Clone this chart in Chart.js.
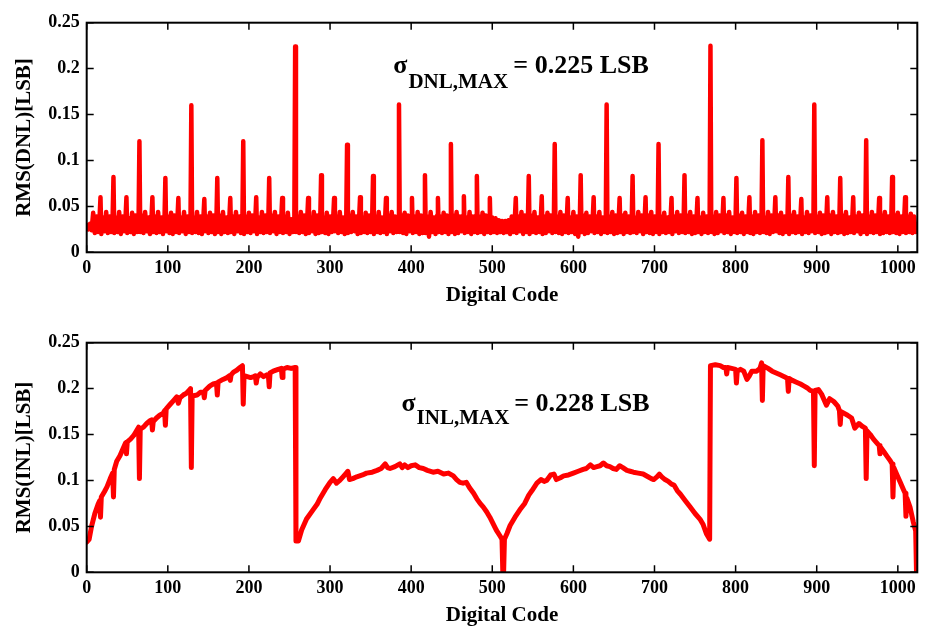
<!DOCTYPE html>
<html>
<head>
<meta charset="utf-8">
<title>RMS DNL / INL vs digital code</title>
<style>
  body { margin: 0; background: #fff; overflow: hidden; }
  canvas { display: block; }
</style>
</head>
<body>
<script src="https://cdn.jsdelivr.net/npm/chart.js@4.4.0/dist/chart.umd.min.js"></script>
<canvas id="dnlChart" width="926" height="320"></canvas>
<canvas id="inlChart" width="926" height="320"></canvas>
<script>
// ---- data ----

// DNL band, one value every 2 codes (0, 2, 4 ... 1024), 32 codes per row
var dnlBaseStep = 2;
var dnlBase = [
  0.030,0.025,0.031,0.024,0.043,0.021,0.039,0.022,0.040,0.020,0.038,0.023,0.044,0.021,0.039,0.022,
  0.040,0.021,0.038,0.022,0.044,0.020,0.039,0.023,0.040,0.021,0.037,0.022,0.043,0.020,0.040,0.022,
  0.039,0.022,0.040,0.021,0.044,0.023,0.038,0.020,0.040,0.022,0.039,0.021,0.044,0.022,0.038,0.020,
  0.040,0.023,0.039,0.021,0.043,0.020,0.040,0.022,0.039,0.021,0.038,0.023,0.044,0.020,0.039,0.022,
  0.040,0.021,0.038,0.022,0.044,0.021,0.039,0.020,0.040,0.023,0.039,0.021,0.043,0.022,0.040,0.020,
  0.039,0.022,0.040,0.020,0.044,0.022,0.038,0.021,0.040,0.022,0.039,0.020,0.044,0.023,0.039,0.021,
  0.040,0.020,0.039,0.022,0.043,0.021,0.040,0.023,0.039,0.020,0.038,0.022,0.044,0.021,0.040,0.022,
  0.039,0.021,0.040,0.023,0.044,0.020,0.039,0.022,0.040,0.021,0.039,0.022,0.043,0.020,0.036,0.022,
  0.038,0.022,0.039,0.021,0.044,0.022,0.040,0.020,0.039,0.021,0.038,0.023,0.044,0.020,0.040,0.021,
  0.040,0.022,0.038,0.021,0.043,0.020,0.039,0.022,0.040,0.023,0.039,0.021,0.044,0.022,0.038,0.020,
  0.039,0.021,0.040,0.022,0.044,0.023,0.039,0.020,0.040,0.021,0.038,0.022,0.043,0.021,0.040,0.022,
  0.040,0.020,0.039,0.022,0.044,0.021,0.038,0.022,0.039,0.020,0.040,0.023,0.044,0.021,0.039,0.022,
  0.039,0.022,0.040,0.021,0.043,0.020,0.040,0.023,0.038,0.021,0.039,0.022,0.044,0.020,0.040,0.021,
  0.040,0.021,0.039,0.017,0.044,0.022,0.038,0.020,0.040,0.022,0.039,0.021,0.043,0.022,0.040,0.020,
  0.039,0.022,0.040,0.020,0.044,0.021,0.039,0.023,0.040,0.021,0.038,0.022,0.044,0.020,0.039,0.022,
  0.040,0.021,0.039,0.022,0.043,0.020,0.040,0.022,0.039,0.021,0.038,0.022,0.037,0.021,0.035,0.022,
  0.034,0.021,0.034,0.022,0.035,0.020,0.039,0.022,0.040,0.021,0.039,0.023,0.044,0.020,0.040,0.022,
  0.039,0.020,0.040,0.022,0.044,0.021,0.038,0.022,0.040,0.020,0.039,0.021,0.043,0.023,0.040,0.021,
  0.040,0.022,0.039,0.021,0.044,0.020,0.040,0.022,0.039,0.021,0.038,0.022,0.044,0.020,0.039,0.017,
  0.039,0.022,0.040,0.020,0.043,0.021,0.039,0.023,0.040,0.021,0.039,0.022,0.044,0.020,0.038,0.022,
  0.040,0.021,0.039,0.022,0.044,0.020,0.040,0.021,0.039,0.022,0.040,0.020,0.043,0.022,0.039,0.021,
  0.039,0.022,0.038,0.021,0.044,0.023,0.040,0.020,0.039,0.022,0.040,0.021,0.044,0.020,0.039,0.022,
  0.040,0.020,0.039,0.022,0.043,0.021,0.038,0.022,0.040,0.020,0.039,0.023,0.044,0.021,0.040,0.022,
  0.039,0.021,0.040,0.022,0.044,0.020,0.039,0.021,0.040,0.022,0.038,0.020,0.043,0.022,0.039,0.021,
  0.040,0.022,0.039,0.020,0.044,0.021,0.040,0.023,0.039,0.021,0.040,0.022,0.044,0.020,0.038,0.022,
  0.039,0.021,0.040,0.022,0.043,0.020,0.039,0.022,0.040,0.021,0.039,0.020,0.044,0.022,0.040,0.021,
  0.040,0.022,0.038,0.021,0.044,0.020,0.040,0.022,0.039,0.023,0.040,0.021,0.043,0.020,0.039,0.022,
  0.039,0.020,0.040,0.022,0.044,0.021,0.039,0.022,0.040,0.020,0.038,0.022,0.044,0.021,0.040,0.023,
  0.040,0.021,0.039,0.022,0.043,0.020,0.040,0.021,0.039,0.022,0.040,0.020,0.044,0.022,0.039,0.021,
  0.039,0.022,0.040,0.020,0.044,0.021,0.038,0.022,0.040,0.021,0.039,0.023,0.043,0.020,0.040,0.022,
  0.040,0.020,0.039,0.022,0.044,0.021,0.040,0.022,0.039,0.020,0.040,0.021,0.044,0.022,0.039,0.021,
  0.039,0.022,0.040,0.021,0.043,0.020,0.039,0.022,0.040,0.021,0.039,0.022,0.042,0.021,0.039,0.022,
  0.030
];

// DNL spikes at the binary-weighted codes
var dnlSpikeCodes = [
  17,33,49,65,81,97,113,129,145,161,177,193,209,225,241,257,
  273,289,305,321,337,353,369,385,401,417,433,449,465,481,497,
  529,545,561,577,593,609,625,641,657,673,689,705,721,737,753,
  769,785,801,817,833,849,865,881,897,913,929,945,961,977,993,1009
];
var dnlSpikeValues = [
  0.060,0.082,0.060,0.121,0.060,0.081,0.059,0.160,0.058,0.081,0.059,0.121,0.060,0.081,0.059,0.224,
  0.059,0.084,0.059,0.117,0.060,0.083,0.059,0.161,0.059,0.084,0.059,0.118,0.061,0.083,0.059,
  0.059,0.083,0.061,0.118,0.059,0.084,0.060,0.161,0.059,0.083,0.060,0.118,0.059,0.084,0.059,
  0.225,0.059,0.081,0.060,0.122,0.060,0.082,0.058,0.161,0.060,0.081,0.060,0.122,0.059,0.082,0.060
];

// INL curve
var inlCodes = [
  0,3,6,10,14,16,17,18,22,25,
  29,32,33,34,37,41,45,48,49,50,
  54,58,62,64,65,66,70,74,78,80,
  81,82,86,90,94,96,97,98,103,107,
  111,113,115,119,123,127,128,129,130,136,
  140,144,145,146,152,156,160,161,162,168,
  173,176,177,178,181,185,189,192,193,194,
  198,202,206,208,209,210,214,218,222,224,
  225,226,230,236,240,241,242,247,252,257,
  258,261,265,271,279,284,288,294,300,304,
  308,312,316,320,322,324,328,333,340,345,
  352,358,363,368,371,374,380,386,389,392,
  396,400,405,410,415,420,427,433,440,446,
  452,456,460,464,468,472,477,481,485,489,
  493,497,501,505,510,512,513,514,515,518,
  522,528,534,540,545,549,555,560,564,567,
  572,576,579,584,588,594,600,606,612,616,
  621,625,629,633,637,641,645,649,653,657,
  661,666,670,674,680,686,692,696,699,703,
  706,709,713,717,721,724,728,732,738,744,
  750,756,760,764,768,769,775,781,785,788,
  789,790,795,800,801,802,806,810,814,817,
  820,826,830,832,833,834,840,845,850,855,
  860,864,865,866,870,875,880,884,888,892,
  896,897,898,902,906,912,916,921,926,928,
  929,930,934,938,943,947,952,956,960,961,
  962,966,970,974,977,978,979,983,987,991,
  993,994,995,999,1003,1007,1009,1010,1011,1015,
  1019,1022,1023
];
var inlValues = [
  0.033,0.036,0.050,0.064,0.074,0.078,0.060,0.082,0.088,0.093,
  0.102,0.108,0.082,0.112,0.121,0.127,0.135,0.141,0.129,0.142,
  0.145,0.149,0.155,0.158,0.102,0.156,0.158,0.162,0.165,0.166,
  0.155,0.164,0.168,0.171,0.173,0.176,0.160,0.178,0.183,0.187,
  0.191,0.184,0.190,0.193,0.195,0.199,0.200,0.114,0.192,0.193,
  0.196,0.196,0.190,0.198,0.203,0.205,0.206,0.193,0.207,0.210,
  0.212,0.214,0.209,0.215,0.218,0.220,0.223,0.225,0.183,0.214,
  0.213,0.212,0.213,0.214,0.206,0.212,0.216,0.213,0.215,0.214,
  0.202,0.217,0.219,0.221,0.222,0.212,0.221,0.223,0.222,0.223,
  0.034,0.034,0.046,0.058,0.068,0.074,0.081,0.090,0.098,0.102,
  0.097,0.100,0.104,0.108,0.110,0.101,0.102,0.104,0.106,0.108,
  0.109,0.111,0.113,0.118,0.114,0.113,0.115,0.118,0.114,0.117,
  0.114,0.116,0.117,0.114,0.113,0.111,0.109,0.110,0.107,0.108,
  0.105,0.101,0.098,0.097,0.098,0.092,0.086,0.080,0.075,0.071,
  0.066,0.060,0.053,0.046,0.039,0.036,0.000,0.000,0.036,0.042,
  0.051,0.060,0.068,0.075,0.084,0.089,0.097,0.101,0.099,0.100,
  0.106,0.107,0.101,0.103,0.105,0.106,0.108,0.110,0.112,0.113,
  0.117,0.114,0.115,0.116,0.119,0.116,0.115,0.113,0.112,0.116,
  0.114,0.111,0.110,0.109,0.108,0.107,0.104,0.102,0.101,0.104,
  0.107,0.104,0.101,0.099,0.096,0.095,0.089,0.085,0.078,0.071,
  0.064,0.058,0.052,0.042,0.036,0.225,0.226,0.225,0.223,0.223,
  0.216,0.223,0.222,0.221,0.206,0.219,0.221,0.219,0.210,0.214,
  0.219,0.219,0.222,0.228,0.187,0.225,0.222,0.219,0.217,0.215,
  0.213,0.211,0.197,0.211,0.209,0.207,0.205,0.203,0.201,0.198,
  0.197,0.116,0.198,0.199,0.194,0.182,0.189,0.186,0.181,0.176,
  0.161,0.175,0.173,0.171,0.168,0.157,0.162,0.159,0.157,0.102,
  0.154,0.150,0.145,0.141,0.138,0.129,0.136,0.131,0.126,0.121,
  0.118,0.082,0.114,0.106,0.098,0.090,0.086,0.061,0.081,0.071,
  0.055,0.045,0.000
];

var xTicks = [0, 100, 200, 300, 400, 500, 600, 700, 800, 900, 1000];
var yTicks = [0, 0.05, 0.1, 0.15, 0.2, 0.25];

// ---- build point lists ----
var dnlPoints = [];
for (var i = 0; i < dnlBase.length; i++) {
  dnlPoints.push({x: i * dnlBaseStep, y: dnlBase[i]});
}
for (var j = 0; j < dnlSpikeCodes.length; j++) {
  dnlPoints.push({x: dnlSpikeCodes[j], y: dnlSpikeValues[j]});
}
dnlPoints.sort(function(a, b) { return a.x - b.x; });

var inlPoints = [];
for (var k = 0; k < inlCodes.length; k++) {
  inlPoints.push({x: inlCodes[k], y: inlValues[k]});
}

var SERIF = '"Liberation Serif", "Times New Roman", serif';
Chart.defaults.color = '#000';
Chart.defaults.font.family = SERIF;

// box round the plot with ticks pointing inwards, MATLAB style
var boxPlugin = {
  id: 'boxTicks',
  afterDatasetsDraw: function(chart) {
    var ctx = chart.ctx, a = chart.chartArea;
    var xs = chart.scales.x, ys = chart.scales.y;
    var len = 7;
    ctx.save();
    ctx.strokeStyle = '#000';
    ctx.lineWidth = 1.5;
    ctx.beginPath();
    xs.ticks.forEach(function(t) {
      var px = xs.getPixelForValue(t.value);
      ctx.moveTo(px, a.bottom); ctx.lineTo(px, a.bottom - len);
      ctx.moveTo(px, a.top); ctx.lineTo(px, a.top + len);
    });
    ys.ticks.forEach(function(t) {
      var py = ys.getPixelForValue(t.value);
      ctx.moveTo(a.left, py); ctx.lineTo(a.left + len, py);
      ctx.moveTo(a.right, py); ctx.lineTo(a.right - len, py);
    });
    ctx.stroke();
    ctx.lineWidth = 2;
    ctx.strokeRect(a.left, a.top, a.right - a.left, a.bottom - a.top);
    ctx.restore();
  }
};

// sigma_{XXX,MAX} = value LSB
var sigmaPlugin = {
  id: 'sigmaLabel',
  afterDraw: function(chart, args, opts) {
    if (!opts.sub) return;
    var ctx = chart.ctx;
    var xs = chart.scales.x, ys = chart.scales.y;
    var x0 = xs.getPixelForValue(opts.code);
    var y0 = ys.getPixelForValue(opts.level);
    ctx.save();
    ctx.fillStyle = '#000';
    ctx.textAlign = 'left';
    ctx.textBaseline = 'alphabetic';
    ctx.font = 'bold 26px ' + SERIF;
    ctx.fillText('\u03c3', x0, y0);
    var w = ctx.measureText('\u03c3').width;
    ctx.font = 'bold 21px ' + SERIF;
    ctx.fillText(opts.sub, x0 + w + 1, y0 + opts.subDrop);
    ctx.font = 'bold 26px ' + SERIF;
    ctx.fillText(opts.text, xs.getPixelForValue(opts.textCode), y0);
    ctx.restore();
  }
};

function makeOptions(yTitle, sigma) {
  return {
    responsive: false,
    animation: false,
    events: [],
    layout: { padding: { top: 22.7, right: 8.7, left: 0, bottom: 0 } },
    plugins: {
      legend: { display: false },
      tooltip: { enabled: false },
      sigmaLabel: sigma
    },
    scales: {
      x: {
        type: 'linear',
        min: 0,
        max: 1024,
        afterFit: function(s) { s.height = 67.7; },
        afterBuildTicks: function(s) { s.ticks = xTicks.map(function(v) { return {value: v}; }); },
        grid: { display: false, drawTicks: false },
        border: { display: false },
        ticks: {
          padding: 5,
          maxRotation: 0,
          autoSkip: false,
          includeBounds: false,
          callback: function(v) { return String(v); },
          font: { family: SERIF, size: 18, weight: 'bold' }
        },
        title: {
          display: true,
          text: 'Digital Code',
          padding: { top: 0, bottom: 14 },
          font: { family: SERIF, size: 21, weight: 'bold', lineHeight: 1 }
        }
      },
      y: {
        min: 0,
        max: 0.25,
        afterFit: function(s) { s.width = 86.7; },
        afterBuildTicks: function(s) { s.ticks = yTicks.map(function(v) { return {value: v}; }); },
        grid: { display: false, drawTicks: false },
        border: { display: false },
        ticks: {
          padding: 7,
          callback: function(v) { return String(Number(v.toFixed(2))); },
          font: { family: SERIF, size: 18, weight: 'bold' }
        },
        title: {
          display: true,
          text: yTitle,
          padding: { top: 14, bottom: 0 },
          font: { family: SERIF, size: 21, weight: 'bold', lineHeight: 1 }
        }
      }
    }
  };
}

function lineDataset(points, width) {
  return {
    data: points,
    borderColor: '#ff0000',
    backgroundColor: '#ff0000',
    borderWidth: width,
    borderJoinStyle: 'round',
    borderCapStyle: 'round',
    pointRadius: 0,
    tension: 0,
    fill: false
  };
}

new Chart(document.getElementById('dnlChart'), {
  type: 'line',
  data: { datasets: [lineDataset(dnlPoints, 4.5)] },
  options: makeOptions('RMS(DNL)[LSB]', {
    sub: 'DNL,MAX', text: '= 0.225 LSB',
    code: 378, level: 0.195, subDrop: 15, textCode: 526
  }),
  plugins: [boxPlugin, sigmaPlugin]
});

new Chart(document.getElementById('inlChart'), {
  type: 'line',
  data: { datasets: [lineDataset(inlPoints, 5)] },
  options: makeOptions('RMS(INL)[LSB]', {
    sub: 'INL,MAX', text: '= 0.228 LSB',
    code: 388, level: 0.176, subDrop: 13, textCode: 527
  }),
  plugins: [boxPlugin, sigmaPlugin]
});
</script>
</body>
</html>
